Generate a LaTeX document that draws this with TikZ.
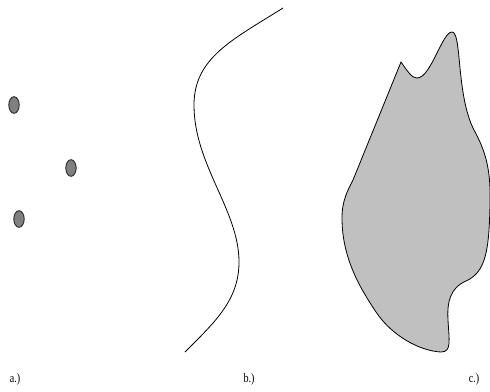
\documentclass[tikz,border=0pt]{standalone}
\usepackage{fontspec}
\newfontfamily\capfont[FakeStretch=0.78]{Liberation Serif}
\usepackage{tikz}
\definecolor{dotgray}{RGB}{128,128,128}
\definecolor{blobgray}{RGB}{192,192,192}

\begin{document}
\begin{tikzpicture}[
    x=1pt, y=-1pt,
    dot/.style={draw=black!85, fill=dotgray, line width=0.9pt},
    curveline/.style={draw=black, line width=0.8pt},
    blob/.style={draw=black, fill=blobgray, line width=0.8pt},
    caption/.style={font=\capfont\fontsize{13}{13}\selectfont, inner sep=0pt}
]
\useasboundingbox (0,0) rectangle (490,391);

% --- a.) points ---
\draw[dot] (14,105) ellipse (5.2 and 8.3);
\draw[dot] (71,168) ellipse (5.2 and 8.3);
\draw[dot] (19,219) ellipse (5.2 and 8.3);

% --- b.) curve ---
\draw[curveline] (283,8) .. controls (232,40) and (194,58) .. (194,105)
    .. controls (194,165) and (239,210) .. (239,262)
    .. controls (239,300) and (215,322) .. (185,352);

% --- c.) region ---
\draw[blob] (401,62) .. controls (408,72) and (412,78) .. (417,78)
    .. controls (431,78) and (442,32) .. (452,32)
    .. controls (462,32) and (456,95) .. (474,130)
    .. controls (486,152) and (491,170) .. (490,205)
    .. controls (489,250) and (486,272) .. (466,281)
    .. controls (450,288) and (447,302) .. (448,320)
    .. controls (449,340) and (452,352) .. (441,352)
    .. controls (420,351) and (392,336) .. (376,312)
    .. controls (360,288) and (342,258) .. (342,218)
    .. controls (342,200) and (348,190) .. (353,180)
    -- cycle;

% --- captions ---
\node[caption] (capa) at (15,379) {a.)};
\node[caption] (capb) at (249,379) {b.)};
\node[caption] (capc) at (474,379) {c.)};

\end{tikzpicture}
\end{document}
